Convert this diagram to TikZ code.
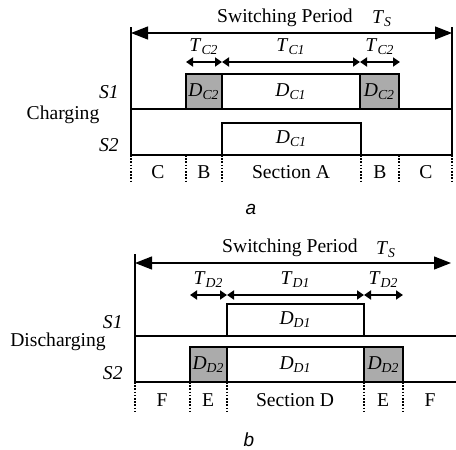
\documentclass[tikz,border=0pt]{standalone}
\usepackage{fontspec}
\setmainfont{Liberation Serif}
\newfontfamily\capfont{Liberation Sans}
\usetikzlibrary{arrows.meta}
\newcommand{\tsym}[2]{\textit{#1}\textsubscript{\textit{#2}}}

\begin{document}
\begin{tikzpicture}[
  x=0.5pt, y=-0.5pt,
  every node/.style={font=\fontsize{9.8}{11}\selectfont, inner sep=0pt},
  axis/.style   = {line width=0.9pt},
  pulse/.style  = {line width=0.9pt, fill=white},
  dpulse/.style = {pulse, fill=black!33},
  tick/.style   = {line width=1.1pt, dash pattern=on 0.8pt off 0.8pt},
  period/.style = {{Triangle[length=8.5pt,width=6.5pt]}-{Triangle[length=8.5pt,width=6.5pt]}, line width=0.6pt},
  tarr/.style   = {{Triangle[length=3.5pt,width=4.5pt]}-{Triangle[length=3.5pt,width=4.5pt]}, line width=0.9pt},
  figcap/.style = {font=\capfont\itshape\fontsize{9.5}{10}\selectfont},
]
  \useasboundingbox (0,0) rectangle (456,450);

  % (a) charging: S1 carries D_C2 / D_C1 / D_C2, S2 carries D_C1
  \coordinate (pa0) at (131,33);
  \coordinate (pa1) at (452,33);
  \draw[period] (pa0) -- (pa1);
  \node (pera) at (285,18) {Switching Period};
  \node (tsa)  at (382,19) {\tsym{T}{S}};

  \draw[axis] (131,27) -- (131,155) -- (452,155) -- (452,27);
  \draw[axis] (131,109) -- (452,109);

  \draw[dpulse] (186,109) rectangle (222,74) node[midway] (dc2l) {\tsym{D}{C2}};
  \draw[pulse]  (222,109) rectangle (360,74) node[midway] (dc1a) {\tsym{D}{C1}};
  \draw[dpulse] (360,109) rectangle (399,74) node[midway] (dc2r) {\tsym{D}{C2}};
  \draw[pulse]  (222,155) rectangle (361,123) node[midway] (dc1b) {\tsym{D}{C1}};

  \coordinate (ta0) at (186,62);
  \coordinate (ta1) at (222,62);
  \coordinate (ta2) at (360,62);
  \coordinate (ta3) at (400,62);
  \draw[tarr] (ta0) -- (ta1) node[midway, yshift=7.5pt] (tc2l) {\tsym{T}{C2}};
  \draw[tarr] (ta1) -- (ta2) node[midway, yshift=7.5pt] (tc1)  {\tsym{T}{C1}};
  \draw[tarr] (ta2) -- (ta3) node[midway, yshift=7.5pt] (tc2r) {\tsym{T}{C2}};

  \node[anchor=east] (s1a) at (119,92)  {\textit{S1}};
  \node[anchor=east] (s2a) at (119,145) {\textit{S2}};
  \node (chg) at (63,115) {Charging};

  \foreach \x in {131,186,222,361,399,452}
    \draw[tick] (\x,155) -- (\x,183);
  \foreach \x/\t in {158/C, 204/B, 291/Section A, 380/B, 426/C}
    \node (seca\x) at (\x,172) {\t};

  \node[figcap] (capa) at (251,209) {a};

  % (b) discharging: S1 carries D_D1, S2 carries D_D2 / D_D1 / D_D2
  \coordinate (pb0) at (135,263);
  \coordinate (pb1) at (451,263);
  \draw[period] (pb0) -- (pb1);
  \node (perb) at (290,248) {Switching Period};
  \node (tsb)  at (386,250) {\tsym{T}{S}};

  \draw[axis] (456,382) -- (135,382) -- (135,254);
  \draw[axis] (135,336) -- (456,336);

  \draw[pulse]  (227,336) rectangle (364,304) node[midway] (dd1a) {\tsym{D}{D1}};
  \draw[dpulse] (190,382) rectangle (227,347) node[midway] (dd2l) {\tsym{D}{D2}};
  \draw[pulse]  (227,382) rectangle (364,347) node[midway] (dd1b) {\tsym{D}{D1}};
  \draw[dpulse] (364,382) rectangle (403,347) node[midway] (dd2r) {\tsym{D}{D2}};

  \coordinate (tb0) at (190,295);
  \coordinate (tb1) at (227,295);
  \coordinate (tb2) at (364,295);
  \coordinate (tb3) at (403,295);
  \draw[tarr] (tb0) -- (tb1) node[midway, yshift=7.5pt] (td2l) {\tsym{T}{D2}};
  \draw[tarr] (tb1) -- (tb2) node[midway, yshift=7.5pt] (td1)  {\tsym{T}{D1}};
  \draw[tarr] (tb2) -- (tb3) node[midway, yshift=7.5pt] (td2r) {\tsym{T}{D2}};

  \node[anchor=east] (s1b) at (123,322) {\textit{S1}};
  \node[anchor=east] (s2b) at (123,373) {\textit{S2}};
  \node (dchg) at (58,342) {Discharging};

  \foreach \x in {135,190,227,364,403}
    \draw[tick] (\x,382) -- (\x,412);
  \foreach \x/\t in {162/F, 208/E, 295/Section D, 383/E, 430/F}
    \node (secb\x) at (\x,400) {\t};

  \node[figcap] (capb) at (249,440) {b};
\end{tikzpicture}
\end{document}
